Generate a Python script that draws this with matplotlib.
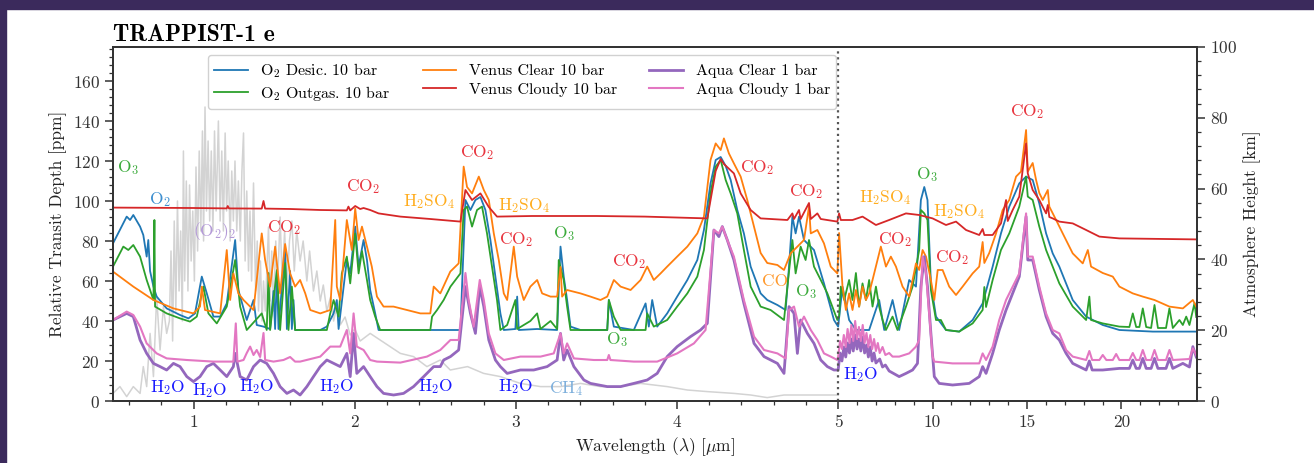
import numpy as np
import matplotlib
matplotlib.use("Agg")
import matplotlib.pyplot as plt
from matplotlib.patches import Rectangle
from matplotlib.ticker import FixedLocator, MultipleLocator

plt.rcParams['font.family'] = 'cmr10'
plt.rcParams['mathtext.fontset'] = 'cm'
plt.rcParams['axes.unicode_minus'] = False
plt.rcParams['axes.formatter.use_mathtext'] = True

# ---- data: wavelength [um] and relative transit depth [ppm] ----
o2_desic_wl = [0.50, 0.585, 0.606, 0.626, 0.668, 0.688, 0.709, 0.719, 0.73, 0.751, 0.771, 0.833, 0.916, 0.968,
               1.009, 1.051, 1.082, 1.123, 1.165, 1.206, 1.258, 1.278, 1.33, 1.372, 1.392, 1.434, 1.475, 1.496,
               1.506, 1.517, 1.527, 1.568, 1.579, 1.599, 1.61, 1.62, 1.63, 1.703, 1.786, 1.827, 1.869, 1.889,
               1.90, 1.931, 1.951, 1.972, 2.003, 2.024, 2.055, 2.076, 2.096, 2.127, 2.148, 2.2, 2.283,
               2.469, 2.656, 2.666, 2.687, 2.718, 2.749, 2.78, 2.811, 2.842, 2.873, 2.904, 2.925, 2.997, 3.008,
               3.018, 3.132, 3.256, 3.277, 3.297, 3.318, 3.339, 3.401, 3.567, 3.577, 3.608, 3.732, 3.805, 3.825,
               3.846, 3.877, 3.939, 4.001, 4.064, 4.126, 4.167, 4.208, 4.24, 4.271, 4.302, 4.333, 4.374, 4.415,
               4.457, 4.519, 4.56, 4.623, 4.674, 4.695, 4.716, 4.736, 4.757, 4.788, 4.85, 4.912, 4.974, 5.0,
               5.23, 5.58, 5.94, 6.64, 7.17, 7.44, 7.88, 8.23, 8.76, 9.12, 9.38, 9.56, 9.73, 9.91, 10.18, 10.71,
               11.41, 12.12, 12.65, 13.18, 13.62, 14.06, 14.59, 14.95, 15.3, 15.65, 16.01, 16.36, 16.71, 17.42,
               18.13, 19.01, 19.89, 21.66, 23.96]
o2_desic_ppm = [78.8, 92.2, 90.5, 93, 87.2, 83, 72.2, 80.5, 65, 57.2, 52.2, 46.3, 43, 41.3,
                43.8, 62.2, 53.8, 42.2, 42.2, 48.8, 80.5, 55.5, 40.5, 50.5, 38, 37.2, 36, 55,
                36, 65, 36, 77, 36, 65, 36, 50.5, 35.5, 35.5, 35.5, 37.2, 43.8, 50.5,
                36, 57.2, 70.5, 63.8, 87.2, 67.2, 80.5, 70.5, 55.5, 43.8, 35.5, 35.5, 35.5,
                35.5, 35.5, 57.2, 100.5, 95.5, 100.5, 102, 95.5, 80.5, 62.2, 43.8, 35.5, 36, 52.2,
                35.5, 36, 35.5, 77.2, 62.2, 50.5, 37.2, 35.5, 35.5, 50.5, 37.2, 35.5, 48.8, 37.2,
                50.5, 37.2, 43.8, 52.2, 60.5, 70.5, 85.5, 108.8, 120.5, 122, 117.5, 110.5, 95.5, 83.8,
                67.2, 53.8, 50.5, 48, 45.5, 67.2, 92.2, 83.8, 92.2, 80.5, 75.5, 58.8, 40.5, 37.2,
                57.2, 40.5, 35.5, 35.5, 50.5, 35.5, 50.5, 35.5, 60.5, 57.2, 100.5, 107, 100.5, 58.8, 42.2, 35.5,
                34.7, 40.5, 48.8, 67.2, 83.8, 97.2, 108.8, 112.2, 110.5, 98.8, 83.8, 73.8, 67.2, 50.5,
                42.2, 38, 35.5, 34.7, 34.7]

o2_outgas_wl = [0.50, 0.564, 0.595, 0.626, 0.668, 0.709, 0.751, 0.757, 0.761, 0.833, 0.916, 0.978, 1.02, 1.061,
                1.092, 1.144, 1.206, 1.258, 1.289, 1.33, 1.423, 1.454, 1.465, 1.475, 1.517, 1.537, 1.568, 1.589,
                1.61, 1.63, 1.827, 1.848, 1.869, 1.90, 1.92, 1.951, 1.972, 2.003, 2.024, 2.045, 2.076, 2.096,
                2.127, 2.158, 2.283, 2.469, 2.48, 2.511, 2.552, 2.594, 2.625, 2.656, 2.676, 2.697, 2.728, 2.759,
                2.79, 2.821, 2.852, 2.883, 2.904, 2.946, 2.997, 3.008, 3.09, 3.132, 3.153, 3.215, 3.256, 3.266,
                3.297, 3.318, 3.339, 3.567, 3.577, 3.608, 3.65, 3.805, 3.815, 3.856, 3.939, 4.001, 4.064, 4.126,
                4.167, 4.208, 4.24, 4.271, 4.302, 4.333, 4.374, 4.415, 4.457, 4.519, 4.581, 4.664, 4.685, 4.716,
                4.736, 4.767, 4.798, 4.819, 4.85, 4.892, 4.933, 4.995, 5.05, 5.14, 5.32, 5.58, 5.76, 5.94, 6.11,
                6.29, 6.47, 6.64, 6.82, 7.0, 7.17, 7.35, 7.53, 7.88, 8.14, 8.59, 8.94, 9.29, 9.38, 9.56, 9.73,
                9.91, 10.18, 10.44, 10.71, 11.41, 12.12, 12.65, 12.74, 12.83, 13.18, 13.62, 14.06, 14.59, 14.95,
                15.04, 15.3, 15.65, 16.01, 16.36, 16.71, 17.42, 18.13, 18.3, 18.39, 19.01, 19.89, 20.42, 20.6,
                20.78, 20.95, 21.13, 21.31, 21.57, 21.75, 21.93, 22.36, 22.54, 22.72, 23.07, 23.25, 23.43, 23.6,
                23.87, 23.96]
o2_outgas_ppm = [67.2, 77.2, 75.5, 78, 72.2, 60.5, 50.5, 90.5, 47.2, 43.8, 41.3, 39.7, 42.2, 57.2,
                 43.8, 38.8, 47.2, 70.5, 47.2, 35.5, 43.8, 35.5, 64, 35.5, 65.5, 35.5, 69, 35.5,
                 57.2, 35.5, 35.5, 43.8, 50.5, 42.2, 63.8, 72.2, 58.8, 83.8, 63.8, 75, 60.5, 50.5,
                 42.2, 35.5, 35.5, 35.5, 42.2, 45.5, 50.5, 57.2, 60.5, 63.8, 95.5, 97.2, 87.2, 95.5,
                 97.2, 83.8, 67.2, 50.5, 35.5, 38, 50.5, 36, 40, 43.8, 36, 40, 36, 70.5,
                 60.5, 47.2, 35.5, 35.5, 50.5, 42.2, 35.5, 35.5, 43.8, 37.2, 40.5, 47.2, 53.8, 62.2,
                 75.5, 104, 117.2, 120.5, 110.5, 103.8, 93.8, 75.5, 57.2, 47.2, 45.5, 40.5, 57.2, 80.5,
                 63.8, 77.2, 70.5, 80.5, 67.2, 60.5, 53.8, 40.5, 42.2, 57.2, 50.5, 60.5, 50.5, 64, 47.2,
                 58.8, 50.5, 60.5, 47.2, 57.2, 47.2, 40.5, 35.5, 42.2, 35.5, 47.2, 57.2, 75.5, 95.5, 93.8, 90.5,
                 55.5, 40.5, 40.5, 35.5, 34.7, 38.8, 45.5, 57, 47, 60.5, 75.5, 83.8, 97.2, 112.2,
                 102.2, 100.5, 87.2, 75.5, 67.2, 58.8, 47.2, 40.5, 52.2, 40.5, 38.8, 37.2, 37, 43.8,
                 37, 37, 46.3, 37, 36.5, 48, 36.5, 36.5, 46.3, 36.5, 40.5, 38, 42.2, 38,
                 49, 42]

venus_clear_wl = [0.5, 0.626, 0.751, 0.875, 0.999, 1.04, 1.051, 1.071, 1.165, 1.206, 1.227, 1.247, 1.278, 1.31,
                  1.372, 1.423, 1.444, 1.475, 1.506, 1.537, 1.568, 1.599, 1.63, 1.661, 1.693, 1.724, 1.786,
                  1.848, 1.879, 1.889, 1.91, 1.951, 1.982, 2.003, 2.024, 2.045, 2.076, 2.106, 2.138, 2.179,
                  2.241, 2.324, 2.407, 2.469, 2.49, 2.531, 2.593, 2.645, 2.676, 2.697, 2.728, 2.77, 2.801, 2.832,
                  2.863, 2.894, 2.925, 2.946, 2.987, 3.008, 3.049, 3.09, 3.132, 3.163, 3.215, 3.256, 3.277, 3.287,
                  3.318, 3.401, 3.463, 3.525, 3.567, 3.608, 3.65, 3.712, 3.774, 3.815, 3.856, 3.898, 3.939, 4.001,
                  4.064, 4.126, 4.167, 4.208, 4.24, 4.271, 4.291, 4.322, 4.353, 4.395, 4.436, 4.478, 4.519, 4.56,
                  4.623, 4.664, 4.705, 4.747, 4.788, 4.819, 4.83, 4.871, 4.912, 4.954, 4.995, 5.05, 5.23, 5.41,
                  5.58, 5.76, 5.94, 6.11, 6.29, 6.47, 6.64, 6.82, 7.08, 7.26, 7.53, 7.79, 8.06, 8.41, 8.76, 9.12,
                  9.29, 9.47, 9.65, 9.91, 10.09, 10.27, 10.53, 10.88, 11.24, 11.59, 12.12, 12.47, 12.65, 12.74,
                  13.0, 13.36, 13.71, 14.06, 14.42, 14.68, 14.95, 15.04, 15.3, 15.48, 15.65, 15.83, 16.1, 16.18,
                  16.54, 16.89, 17.42, 17.95, 18.22, 18.39, 19.01, 19.54, 19.89, 20.6, 21.13, 21.75, 22.54, 23.25,
                  23.78, 23.96]
venus_clear_ppm = [64.7, 57.2, 50.5, 46.3, 43.8, 47.2, 57.2, 45.5, 43.8, 75.5, 50.5, 63.8, 53.8, 50.5,
                   45.5, 83.8, 70.5, 57.2, 77.2, 53.8, 78.5, 63.8, 57.2, 60.5, 53.8, 45.5, 43.8,
                   45.5, 90.5, 57.2, 50.5, 90.5, 75.5, 96.3, 80.5, 87.2, 77.2, 67.2, 52.2, 47.2,
                   47.2, 45.5, 43.8, 43.8, 57.2, 53.8, 64.7, 68.8, 117.2, 107, 103.8, 112.2, 105.5, 100.5,
                   83.8, 70.5, 53.8, 50.5, 77.2, 62.2, 50.5, 57.2, 60.5, 53.8, 52.2, 52.2, 67, 52.2,
                   55.5, 53.8, 52.2, 50.5, 52.2, 60.5, 57.2, 55.5, 60.5, 67.2, 60.5, 63.8, 67.2, 72.2,
                   77.2, 83.8, 92.2, 120.5, 128.8, 125.5, 131.3, 123.8, 118.8, 112.2, 100.5, 87.2, 74, 69,
                   68, 65.5, 73.8, 77.2, 80.5, 97.2, 83.8, 85.5, 78.8, 67.2, 63.8, 84, 57.2, 45.5,
                   53.8, 45.5, 55.5, 47.2, 57.2, 50.5, 53.8, 60.5, 70.5, 77.2, 67.2, 72.2, 67.2, 57.2, 52.2, 68.8,
                   65.5, 75.5, 72.2, 60.5, 50.5, 65.5, 65.5, 57.2, 53, 57.2, 63.8, 67.2, 79.5, 69,
                   74, 83.8, 95.5, 100.5, 112.2, 114.7, 135.5, 114.7, 119, 110.5, 104, 100.5, 105.5, 97.2,
                   90.5, 83.8, 73.8, 68.8, 75.5, 67.2, 64, 62.2, 57.2, 53.8, 52.2, 50.5, 47.2, 46.3,
                   50.5, 47.2]

venus_cloudy_wl = [0.5, 1.0, 1.206, 1.212, 1.22, 1.423, 1.434, 1.444, 1.6, 1.786, 1.951, 1.961, 1.972, 2.003,
                   2.034, 2.055, 2.096, 2.148, 2.283, 2.469, 2.656, 2.687, 2.728, 2.78, 2.832, 2.883, 3.1, 3.5,
                   3.8, 4.188, 4.24, 4.271, 4.291, 4.353, 4.395, 4.457, 4.519, 4.685, 4.716, 4.726, 4.757, 4.767,
                   4.819, 4.83, 4.871, 4.892, 4.995, 5.05, 5.14, 5.76, 6.29, 7.0, 7.7, 8.59, 9.29, 10.0, 10.71,
                   11.24, 11.77, 12.47, 12.65, 12.74, 13.18, 13.62, 13.89, 13.98, 14.24, 14.59, 14.95, 15.04, 15.3,
                   15.65, 16.01, 16.1, 16.18, 16.36, 16.71, 17.42, 18.13, 18.83, 19.89, 23.96]
venus_cloudy_ppm = [96.7, 96.5, 96.3, 97.5, 96.3, 96.2, 100, 96.2, 96, 95.5, 95.3, 97.2, 95.3, 97.5,
                    96, 96.5, 95.5, 93.8, 92.2, 91, 89.7, 105.5, 100.5, 103.8, 97, 92.2, 92.5, 92.5,
                    92.2, 91.3, 115, 121, 118.5, 113.8, 103.8, 95.5, 91.3, 90.5, 93.8, 91, 95.5, 91,
                    99, 91, 93.8, 91, 89.7, 93.8, 90.5, 90.5, 92.2, 88, 90.5, 93.8, 93, 91.3, 88,
                    89.7, 85.5, 83, 86, 83, 83, 88.8, 100.5, 90, 95.5, 102.2, 128.8, 113.8, 105.5,
                    100.5, 93.8, 98, 92, 91.3, 89.7, 88.8, 85.5, 82.2, 81.3, 80.8]

aqua_clear_wl = [0.5, 0.585, 0.626, 0.668, 0.709, 0.751, 0.792, 0.833, 0.875, 0.916, 0.958, 0.999, 1.04, 1.082,
                 1.123, 1.165, 1.206, 1.247, 1.258, 1.289, 1.33, 1.372, 1.413, 1.454, 1.496, 1.537, 1.579, 1.62,
                 1.661, 1.703, 1.744, 1.786, 1.827, 1.869, 1.91, 1.951, 1.972, 1.993, 2.013, 2.055, 2.096, 2.138,
                 2.179, 2.241, 2.303, 2.365, 2.428, 2.49, 2.531, 2.552, 2.594, 2.645, 2.687, 2.718, 2.749, 2.776,
                 2.801, 2.832, 2.873, 2.904, 2.946, 3.028, 3.111, 3.194, 3.256, 3.277, 3.297, 3.318, 3.36, 3.422,
                 3.463, 3.567, 3.65, 3.732, 3.815, 3.877, 3.939, 4.001, 4.084, 4.146, 4.188, 4.229, 4.26, 4.281,
                 4.312, 4.353, 4.415, 4.478, 4.54, 4.623, 4.664, 4.695, 4.726, 4.747, 4.767, 4.809, 4.85, 4.892,
                 4.933, 4.974, 5.0, 5.1, 5.2, 5.3, 5.4, 5.5, 5.6, 5.7, 5.8, 5.9, 6.0, 6.1, 6.2, 6.3, 6.4, 6.5,
                 6.6, 6.7, 6.8, 6.9, 7.0, 7.2, 7.35, 7.5, 7.7, 8.23, 8.59, 8.94, 9.2, 9.38, 9.56,
                 9.73, 9.91, 10.09, 10.35, 11.06, 11.94, 12.47, 12.65, 12.83, 13.18, 13.53, 13.89, 14.24, 14.59,
                 14.95, 15.04, 15.3, 15.65, 16.01, 16.36, 16.71, 17.07, 17.42, 18.13, 18.3, 18.45, 19.01, 19.89,
                 20.42, 20.6, 20.78, 20.95, 21.13, 21.31, 21.57, 21.75, 21.93, 22.36, 22.54, 22.72, 23.25, 23.6,
                 23.78, 23.96]
aqua_clear_ppm = [40.5, 43.8, 42.2, 30.5, 23.8, 18.8, 17.2, 15.5, 18.8, 17.2, 12.2, 9.7, 12.2, 17.2,
                  18.8, 15.5, 12.2, 17.2, 23.8, 12.2, 10.5, 17.2, 20.5, 18.8, 13.8, 7.2, 3.8, 5.5,
                  3, 7.2, 12.2, 17.2, 20.5, 18.8, 17.2, 23.8, 12.2, 33.8, 13.8, 17.2, 12.2, 7.2,
                  3.8, 3, 3.8, 7.2, 12.2, 17.2, 17.2, 20.5, 22.2, 25.5, 57.2, 43.8, 33.8, 57.2,
                  47.2, 30.5, 20.5, 17.2, 13.8, 15.5, 15.5, 17.2, 20.5, 33.8, 20.5, 25.5, 17.2, 10.5,
                  8.8, 7.2, 7.2, 8.8, 10.5, 13.8, 22.2, 27.2, 32.2, 35.5, 38.8, 85.5, 82.2, 87.2,
                  80.5, 70.5, 48.8, 28.8, 22.2, 18.8, 13.8, 47.2, 43.8, 23.8, 40.5, 33.8, 28.8, 20.5,
                  17.2, 15.5, 15.5, 24, 20, 27, 22, 29, 24, 31, 25, 33, 26, 31, 25, 32, 24, 28,
                  22, 27, 20, 24, 19, 21, 17, 18, 15, 12.2, 13.8, 15.5, 18.8, 57.2, 72.2,
                  57.2, 33.8, 12.2, 8.8, 8, 8.8, 12.2, 17.2, 13.8, 23.8, 35.5, 45.5, 53.8, 62.2,
                  92.2, 70.5, 70.5, 55.5, 42.2, 33.8, 30.5, 23.8, 18.8, 15.5, 20, 15.5, 15.5, 16.3,
                  16.3, 20.5, 16.3, 16.3, 21.3, 16.3, 16.3, 21.3, 16.3, 16.3, 21.3, 16.3, 18.8, 17,
                  27.2, 22]

aqua_cloudy_wl = [0.5, 0.585, 0.626, 0.668, 0.709, 0.771, 0.833, 0.958, 1.123, 1.247, 1.262, 1.272, 1.31, 1.33,
                  1.351, 1.372, 1.392, 1.413, 1.434, 1.444, 1.496, 1.558, 1.599, 1.63, 1.661, 1.786, 1.848, 1.91,
                  1.951, 1.972, 1.993, 2.013, 2.055, 2.096, 2.138, 2.283, 2.448, 2.531, 2.594, 2.645, 2.687, 2.707,
                  2.738, 2.776, 2.801, 2.832, 2.873, 2.925, 3.028, 3.153, 3.235, 3.277, 3.297, 3.318, 3.36, 3.484,
                  3.567, 3.577, 3.587, 3.732, 3.877, 4.001, 4.105, 4.177, 4.229, 4.26, 4.281, 4.312, 4.353, 4.415,
                  4.478, 4.54, 4.623, 4.674, 4.695, 4.726, 4.757, 4.788, 4.83, 4.871, 4.912, 4.954, 4.995, 5.0,
                  5.1, 5.2, 5.3, 5.4, 5.5, 5.6, 5.7, 5.8, 5.9, 6.0, 6.1, 6.2, 6.3, 6.4, 6.5, 6.6, 6.7, 6.8, 6.9,
                  7.0, 7.1, 7.2, 7.35, 7.5, 7.7, 7.88, 8.23, 8.76, 9.12, 9.29,
                  9.47, 9.65, 9.82, 10.0, 10.09, 11.06, 12.47, 12.65, 12.83, 13.18, 13.53, 13.89, 14.24, 14.59,
                  14.95, 15.04, 15.3, 15.65, 16.01, 16.36, 16.71, 17.07, 17.42, 18.13, 18.3, 18.45, 18.83, 19.01,
                  19.2, 19.54, 19.72, 19.89, 20.42, 20.6, 20.78, 20.95, 21.13, 21.31, 21.57, 21.75, 21.93, 22.36,
                  22.54, 22.72, 23.6, 23.78, 23.96]
aqua_cloudy_ppm = [40.5, 44.7, 43, 37.2, 28.8, 23.8, 21.3, 20.5, 19.7, 19.7, 38.8, 19.7, 20.5, 24,
                   27.2, 23, 25.5, 22, 34, 20.5, 19.7, 20.5, 22, 19.7, 19.7, 22.2, 27.2, 27.2,
                   35.5, 23.8, 43.8, 27.2, 25.5, 20.5, 19.7, 19.2, 22.2, 25.5, 30.5, 30.5, 64, 50.5,
                   37.2, 60.5, 50.5, 33.8, 23.8, 20.5, 22.2, 22.2, 23.8, 33.8, 23.8, 28.8, 21.3, 20.5,
                   20.5, 23, 20.5, 19.7, 19.7, 23.8, 28.8, 35.5, 85.5, 83.8, 87.2, 80.5, 72.2, 50.5,
                   32.2, 25.5, 23.8, 21.3, 45.5, 47.2, 37.2, 42.2, 35.5, 30.5, 23.8, 22.2, 20.5, 22.2,
                   30, 26, 33, 27, 36, 29, 38, 30, 40, 31, 37, 30, 38, 29, 34, 27, 33, 26, 31,
                   25, 29, 24, 27, 23, 24, 22.2, 22.2, 23.8, 27.2, 30.5,
                   72.2, 63.8, 43.8, 22.2, 19.7, 18.8, 18.8, 23.8, 20.5, 27.2, 40.5, 50.5, 57.2, 63.8,
                   93.8, 72.2, 72.2, 57.2, 43.8, 35.5, 33.8, 25.5, 22.2, 20.5, 25, 20.5, 20.5, 23,
                   20.5, 20.5, 23.5, 20.5, 20.5, 24, 20.5, 20.5, 25.5, 20.5, 20.5, 25.5, 20.5, 20.5,
                   25.5, 20.5, 21, 26.3, 23]

star_wl = [0.5, 0.543, 0.585, 0.626, 0.668, 0.688, 0.709, 0.73, 0.751, 0.771, 0.792, 0.813, 0.833, 0.85, 0.86,
           0.87, 0.88, 0.89, 0.90, 0.91, 0.92, 0.93, 0.937, 0.945, 0.955, 0.965, 0.975, 0.985, 0.995, 1.005,
           1.015, 1.025, 1.035, 1.045, 1.055, 1.062, 1.071, 1.08, 1.09, 1.10, 1.11, 1.12, 1.13, 1.14, 1.154,
           1.165, 1.175, 1.185, 1.196, 1.205, 1.215, 1.227, 1.237, 1.247, 1.257, 1.268, 1.278, 1.29, 1.30,
           1.31, 1.32, 1.33, 1.341, 1.35, 1.36, 1.372, 1.385, 1.395, 1.403, 1.415, 1.425, 1.434, 1.445, 1.465,
           1.475, 1.485, 1.496, 1.51, 1.52, 1.537, 1.55, 1.565, 1.579, 1.595, 1.61, 1.625, 1.64, 1.661, 1.68,
           1.703, 1.72, 1.744, 1.765, 1.786, 1.805, 1.827, 1.85, 1.869, 1.89, 1.91, 1.94, 1.972, 2.0, 2.034,
           2.096, 2.158, 2.22, 2.283, 2.365, 2.448, 2.531, 2.593, 2.7, 2.8, 2.904, 3.028, 3.153, 3.277, 3.401,
           3.525, 3.65, 3.774, 3.939, 4.064, 4.188, 4.353, 4.457, 4.56, 4.664, 4.767, 5.0]
star_ppm = [3.8, 7.2, 2.2, 7.2, 3.8, 17.2, 7.2, 33.8, 12.2, 52.2, 25.5, 47.2, 33.8, 40, 75,
            30, 90, 45, 100, 55, 85, 40, 125, 60, 110, 55, 108, 70, 95, 60,
            117, 75, 125, 85, 135, 80, 147, 95, 130, 90, 125, 85, 135, 95, 140,
            90, 125, 85, 134, 95, 120, 80, 115, 90, 120, 85, 110, 80, 115,
            134, 70, 105, 65, 95, 60, 109, 55, 80, 45, 70, 40, 60, 45, 87,
            50, 75, 45, 80, 55, 92, 60, 85, 55, 80, 90, 65, 85, 70, 80,
            60, 75, 55, 65, 50, 58, 45, 52, 40, 48, 38, 42, 33, 36, 30,
            33.8, 30.5, 27.2, 23.8, 22.2, 17.2, 20.5, 15.5, 17.2, 13.8, 12.2, 8.8, 7.2, 7.2, 8.8,
            7.2, 7.2, 8.8, 7.2, 5.5, 4.7, 3.8, 3, 1.7, 3, 3, 3]

series_labels = ['O$_2$ Desic. 10 bar', 'O$_2$ Outgas. 10 bar', 'Venus Clear 10 bar',
                 'Venus Cloudy 10 bar', 'Aqua Clear 1 bar', 'Aqua Cloudy 1 bar']
series_colors = ['#1f77b4', '#2ca02c', '#ff7f0e', '#d62728', '#9467bd', '#e377c2']

# molecule labels: text, wavelength, ppm, colour
feat_text = ['O$_3$', 'O$_2$', '(O$_2$)$_2$', 'CO$_2$', 'CO$_2$', 'H$_2$SO$_4$', 'CO$_2$', 'H$_2$SO$_4$',
             'CO$_2$', 'O$_3$', 'CO$_2$', 'O$_3$', 'CO$_2$', 'CO$_2$', 'CO', 'O$_3$',
             'H$_2$SO$_4$', 'O$_3$', 'H$_2$SO$_4$', 'CO$_2$', 'CO$_2$', 'CO$_2$',
             'H$_2$O', 'H$_2$O', 'H$_2$O', 'H$_2$O', 'H$_2$O', 'H$_2$O', 'CH$_4$', 'H$_2$O']
feat_wl = [0.59, 0.79, 1.13, 1.56, 2.05, 2.46, 2.76, 3.05, 3.0, 3.3, 3.7, 3.63, 4.5, 4.8, 4.61, 4.8,
           7.5, 9.7, 11.4, 8.0, 11.05, 15.0,
           0.84, 1.1, 1.39, 1.89, 2.5, 3.0, 3.31, 6.2]
feat_ppm = [116.5, 100.5, 84.5, 86.5, 107, 99.5, 124, 97.5, 80.5, 83.5, 69.5, 30.5, 116.5, 104.5, 60, 54.5,
            101.5, 113, 94.5, 80.5, 71.5, 144.5,
            6.5, 5, 7, 7, 7, 7, 6, 13]
c_o3, c_o2, c_o4, c_co2, c_h2so4, c_h2o, c_ch4 = '#3cab3c', '#3d8fd0', '#b49ad8', '#e8353f', '#ffad1f', '#1a1aff', '#7fb0dc'
feat_color = [c_o3, c_o2, c_o4, c_co2, c_co2, c_h2so4, c_co2, c_h2so4, c_co2, c_o3, c_co2, c_o3, c_co2, c_co2,
              '#ff9a2e', c_o3, c_h2so4, c_o3, c_h2so4, c_co2, c_co2, c_co2,
              c_h2o, c_h2o, c_h2o, c_h2o, c_h2o, c_h2o, c_ch4, c_h2o]

# ---- broken-scale x axis: 0.5-5 um stretched, 5-24 um compressed ----
K = 0.1172


def fwd(x):
    x = np.asarray(x, dtype=float)
    return np.where(x <= 5, x, 5 + (x - 5) * K)


def inv(t):
    t = np.asarray(t, dtype=float)
    return np.where(t <= 5, t, 5 + (t - 5) / K)


fig = plt.figure(figsize=(13.14, 4.63), dpi=100, facecolor='white')
fig.add_artist(Rectangle((0, 0), 6 / 1314, 1, transform=fig.transFigure, color='#3b2a5c', zorder=-5))
fig.add_artist(Rectangle((0, 1 - 9 / 463), 1, 9 / 463, transform=fig.transFigure, color='#3b2a5c', zorder=-5))

ax = fig.add_axes([113 / 1314, 62 / 463, (1197 - 113) / 1314, (401 - 47) / 463])
ax.set_xscale('function', functions=(fwd, inv))

ax.plot(star_wl, star_ppm, color='#d3d3d3', lw=1.1, zorder=1)
all_wl = [o2_desic_wl, o2_outgas_wl, venus_clear_wl, venus_cloudy_wl, aqua_clear_wl, aqua_cloudy_wl]
all_ppm = [o2_desic_ppm, o2_outgas_ppm, venus_clear_ppm, venus_cloudy_ppm, aqua_clear_ppm, aqua_cloudy_ppm]
widths = [1.3, 1.3, 1.3, 1.3, 2.0, 1.5]
for wl, ppm, lab, col, lw in zip(all_wl, all_ppm, series_labels, series_colors, widths):
    ax.plot(wl, ppm, color=col, lw=lw, label=lab, zorder=2)

ax.axvline(5, color='#555555', ls=':', lw=1.6, zorder=3)

for t, x, y, c in zip(feat_text, feat_wl, feat_ppm, feat_color):
    ax.text(x, y, t, color=c, fontsize=12.5, ha='center', va='center', zorder=4)

ax.set_xlim(0.5, 24.0)
ax.set_ylim(0, 177)
ax.xaxis.set_major_locator(FixedLocator([1, 2, 3, 4, 5, 10, 15, 20]))
minor_x = [round(0.6 + 0.2 * i, 1) for i in range(22)] + [float(v) for v in range(6, 24)]
minor_x = [v for v in minor_x if v not in (1, 2, 3, 4, 5, 10, 15, 20)]
ax.xaxis.set_minor_locator(FixedLocator(minor_x))
ax.set_xticklabels(['1', '2', '3', '4', '5', '10', '15', '20'])
ax.yaxis.set_major_locator(MultipleLocator(20))
ax.yaxis.set_minor_locator(MultipleLocator(4))
ax.set_ylabel('Relative Transit Depth [ppm]', fontsize=12.5, color='#222222')
ax.set_xlabel(r'Wavelength ($\lambda$) [$\mu$m]', fontsize=12.5, color='#222222')

ax2 = ax.twinx()
ax2.set_ylim(0, 100)
ax2.yaxis.set_major_locator(MultipleLocator(20))
ax2.yaxis.set_minor_locator(MultipleLocator(4))
ax2.set_ylabel('Atmosphere Height [km]', fontsize=12.5, color='#222222')

for a in (ax, ax2):
    a.tick_params(which='major', length=6, width=1.1, labelsize=12.5, colors='#333333')
    a.tick_params(which='minor', length=3, width=0.9, colors='#333333')
    for s in a.spines.values():
        s.set_color('#333333')
        s.set_linewidth(1.3)

ax.set_title('TRAPPIST-1 e', loc='left', fontfamily='cmb10', fontsize=17, pad=4)

leg = ax.legend(loc='upper left', bbox_to_anchor=(0.08, 1.0), ncol=3, fontsize=11.5,
                handlelength=2.1, columnspacing=2.0, frameon=True, fancybox=True,
                edgecolor='#cccccc', framealpha=0.9, borderpad=0.4, labelspacing=0.25)
leg.get_frame().set_linewidth(1.0)

fig.savefig('out.png', dpi=100, facecolor=fig.get_facecolor())
